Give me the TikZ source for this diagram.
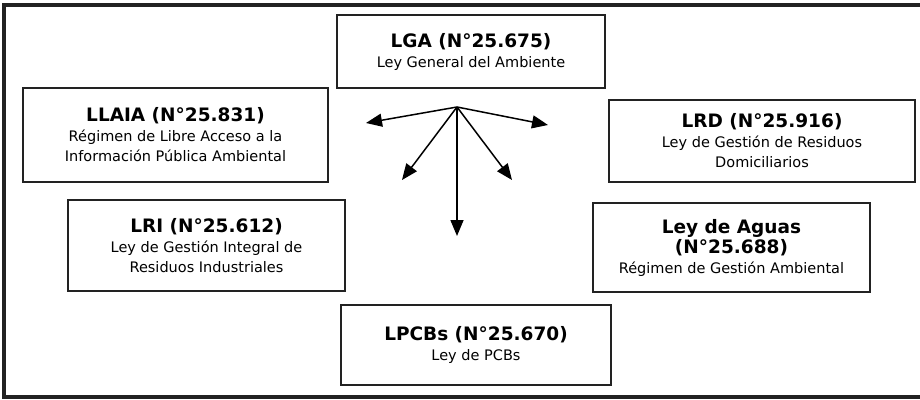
\documentclass[tikz,border=0pt]{standalone}
\usepackage{fontspec}
\setmainfont{DejaVu Sans}
\usetikzlibrary{arrows.meta}
\definecolor{inkdark}{HTML}{222222}
\newcommand{\lawname}[1]{{\fontsize{18.5}{24}\selectfont\bfseries #1}}

\begin{document}
\begin{tikzpicture}[x=1pt,y=-1pt,
  lawbox/.style={draw=inkdark,line width=1.5pt,align=center,inner sep=0pt,
    font=\fontsize{14.5}{20}\selectfont},
  fan/.style={draw=black,line width=1.5pt,-{Triangle[length=16pt,width=13pt]}}]
\useasboundingbox (0,0) rectangle (920,399);
\draw[inkdark,line width=3.2pt] (4,5) rectangle (935,397);

\node[lawbox,minimum width=268,minimum height=73] (lga) at (471,51.5)
  {\lawname{LGA (N°25.675)}\\ Ley General del Ambiente};
\node[lawbox,minimum width=305,minimum height=94] (llaia) at (175.5,135)
  {\lawname{LLAIA (N°25.831)}\\ Régimen de Libre Acceso a la\\ Información Pública Ambiental};
\node[lawbox,minimum width=306,minimum height=82] (lrd) at (762,141)
  {\lawname{LRD (N°25.916)}\\ Ley de Gestión de Residuos\\ Domiciliarios};
\node[lawbox,minimum width=277,minimum height=91] (lri) at (206.5,245.5)
  {\lawname{LRI (N°25.612)}\\ Ley de Gestión Integral de\\ Residuos Industriales};
\node[lawbox,minimum width=277,minimum height=89] (aguas) at (731.5,247.5)
  {\lawname{Ley de Aguas}\\ \lawname{(N°25.688)}\\ Régimen de Gestión Ambiental};
\node[lawbox,minimum width=270,minimum height=80] (lpcb) at (476,345)
  {\lawname{LPCBs (N°25.670)}\\ Ley de PCBs};

% fan of arrows
\coordinate (hub) at (457,107);
\coordinate (toL) at (366,123);
\coordinate (toR) at (548,125);
\coordinate (toLL) at (402,180);
\coordinate (toLR) at (512,180);
\coordinate (toD) at (457,236);
\foreach \t in {toL,toR,toLL,toLR,toD}
  \draw[fan] (hub) -- (\t);
\end{tikzpicture}
\end{document}
